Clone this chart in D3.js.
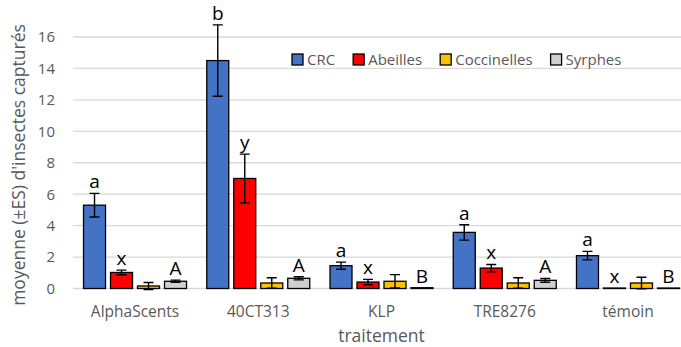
<!DOCTYPE html>
<html><head><meta charset="utf-8">
<script src="https://cdn.jsdelivr.net/npm/d3@7"></script>
<style>body{margin:0;background:#fff}svg{display:block;font-family:"Open Sans",sans-serif}</style>
</head><body><svg id="c" width="681" height="347"></svg>
<script>
const categories = ["AlphaScents","40CT313","KLP","TRE8276","témoin"];
const seriesNames = ["CRC","Abeilles","Coccinelles","Syrphes"];
const colors = ["#4472C4","#FF0000","#FFC000","#D0CECE"];
const crcMean = [5.3,14.5,1.45,3.57,2.09];
const crcSE = [0.75,2.27,0.23,0.49,0.27];
const abeMean = [1.02,7.0,0.41,1.3,0.03];
const abeSE = [0.15,1.55,0.17,0.23,0];
const cocMean = [0.16,0.35,0.46,0.35,0.35];
const cocSE = [0.22,0.33,0.42,0.33,0.37];
const syrMean = [0.46,0.65,0.05,0.52,0.03];
const syrSE = [0.07,0.1,0,0.12,0];
const crcLetters = ["a","b","a","a","a"];
const abeLetters = ["x","y","x","x","x"];
const cocLetters = ["","","","",""];
const syrLetters = ["A","A","B","A","B"];
const yTicks = [0,2,4,6,8,10,12,14,16];

const means=[crcMean,abeMean,cocMean,syrMean], ses=[crcSE,abeSE,cocSE,syrSE], lets=[crcLetters,abeLetters,cocLetters,syrLetters];
const svg=d3.select("#c");
const x0=d3.scaleBand().domain(categories).range([73.4,689.6]).padding(0);
const x1=d3.scaleBand().domain(seriesNames).range([0,x0.bandwidth()]).paddingInner(0.185).paddingOuter(0.375);
const y=d3.scaleLinear().domain([0,16]).range([288.5,37]);
const txt="#595959";

svg.append("g").selectAll("line").data(yTicks).join("line")
  .attr("x1",73).attr("x2",681).attr("y1",d=>y(d)).attr("y2",d=>y(d))
  .attr("stroke","#d9d9d9").attr("stroke-width",1.3);
svg.append("g").selectAll("text").data(yTicks).join("text")
  .attr("x",55).attr("y",d=>y(d)).attr("dy","0.36em").attr("text-anchor","end")
  .attr("font-size",15).attr("fill",txt).text(d=>d);
svg.append("g").selectAll("text").data(categories).join("text")
  .attr("x",d=>x0(d)+x0.bandwidth()/2).attr("y",317).attr("text-anchor","middle")
  .attr("font-size",15.5).attr("fill",txt).text(d=>d);

const data=[];
categories.forEach((c,i)=>seriesNames.forEach((s,j)=>data.push({c,s,j,m:means[j][i],se:ses[j][i],l:lets[j][i]})));
const g=svg.append("g");
g.selectAll("rect").data(data).join("rect")
  .attr("x",d=>x0(d.c)+x1(d.s)).attr("width",x1.bandwidth())
  .attr("y",d=>y(d.m)).attr("height",d=>y(0)-y(d.m))
  .attr("fill",d=>colors[d.j]).attr("stroke","#000").attr("stroke-width",1.3);
const eb=data.filter(d=>d.se>0);
const cx=d=>x0(d.c)+x1(d.s)+x1.bandwidth()/2;
g.selectAll("path.eb").data(eb).join("path").attr("class","eb")
  .attr("d",d=>{const a=y(d.m+d.se),b=y(d.m-d.se),c=cx(d);return `M${c},${a}V${b}M${c-5},${a}H${c+5}M${c-5},${b}H${c+5}`;})
  .attr("stroke","#000").attr("stroke-width",1.4).attr("fill","none");
g.selectAll("text").data(data.filter(d=>d.l)).join("text")
  .attr("x",cx).attr("y",d=>y(d.m+d.se)-5).attr("text-anchor","middle")
  .attr("font-size",19).attr("fill","#000").text(d=>d.l);

const lg=svg.append("g");
let lx=292;
seriesNames.forEach((s,j)=>{
  lg.append("rect").attr("x",lx).attr("y",54).attr("width",11).attr("height",11)
    .attr("fill",colors[j]).attr("stroke","#000").attr("stroke-width",1.3);
  const t=lg.append("text").attr("x",lx+15).attr("y",59.5).attr("dy","0.36em")
    .attr("font-size",15).attr("fill",txt).text(s);
  lx+=15+t.node().getComputedTextLength()+18;
});

svg.append("text").attr("transform","translate(25,165) rotate(-90)").attr("text-anchor","middle")
  .attr("font-size",17.5).attr("fill",txt).text("moyenne (±ES) d'insectes capturés");
svg.append("text").attr("x",x0("KLP")+x0.bandwidth()/2).attr("y",342).attr("text-anchor","middle")
  .attr("font-size",17.5).attr("fill",txt).text("traitement");
</script></body></html>
